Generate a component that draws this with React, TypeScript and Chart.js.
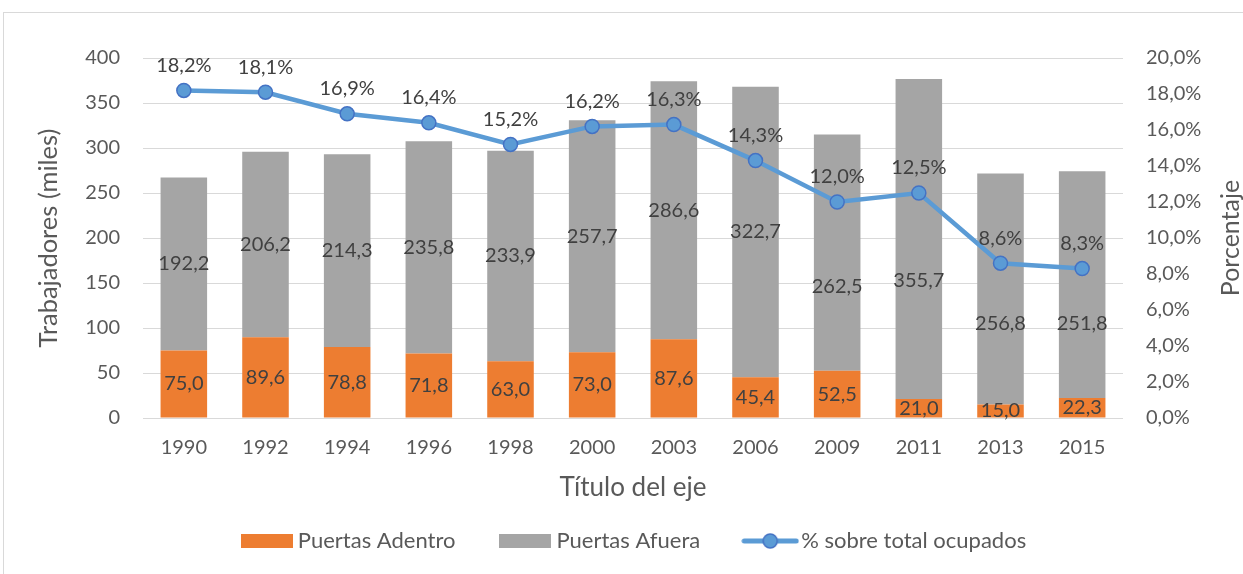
import React, { useEffect, useRef } from "react";
import { Chart, registerables } from "chart.js";

Chart.register(...registerables);

const categories = ["1990", "1992", "1994", "1996", "1998", "2000", "2003", "2006", "2009", "2011", "2013", "2015"];
const puertasAdentro = [75.0, 89.6, 78.8, 71.8, 63.0, 73.0, 87.6, 45.4, 52.5, 21.0, 15.0, 22.3];
const puertasAfuera = [192.2, 206.2, 214.3, 235.8, 233.9, 257.7, 286.6, 322.7, 262.5, 355.7, 256.8, 251.8];
const porcentajeOcupados = [18.2, 18.1, 16.9, 16.4, 15.2, 16.2, 16.3, 14.3, 12.0, 12.5, 8.6, 8.3];
const seriesNames = ["Puertas Adentro", "Puertas Afuera", "% sobre total ocupados"];
const leftAxisTitle = "Trabajadores (miles)";
const rightAxisTitle = "Porcentaje";
const xAxisTitle = "Título del eje";

const FONT = "Lato";
const TEXT = "#595959";
const LABEL = "#404040";
const ORANGE = "#ED7D31";
const GRAY = "#A5A5A5";
const BLUE = "#5B9BD5";
const BLUE_DARK = "#4472C4";

const fmt = (v: number, d: number) => v.toFixed(d).replace(".", ",");

function makeBox(color: string) {
  const c = document.createElement("canvas");
  c.width = 52;
  c.height = 14;
  const g = c.getContext("2d")!;
  g.fillStyle = color;
  g.fillRect(0, 0, 52, 14);
  return c;
}

function makeLineMarker() {
  const c = document.createElement("canvas");
  c.width = 58;
  c.height = 18;
  const g = c.getContext("2d")!;
  g.strokeStyle = BLUE;
  g.lineWidth = 5;
  g.lineCap = "round";
  g.beginPath();
  g.moveTo(3, 9);
  g.lineTo(55, 9);
  g.stroke();
  g.beginPath();
  g.arc(29, 9, 7, 0, Math.PI * 2);
  g.fillStyle = BLUE;
  g.fill();
  g.lineWidth = 1.5;
  g.strokeStyle = BLUE_DARK;
  g.stroke();
  return c;
}

const framePlugin = {
  id: "frame",
  beforeDraw(chart: any) {
    const ctx = chart.ctx;
    ctx.save();
    ctx.fillStyle = "#FFFFFF";
    ctx.fillRect(0, 0, chart.width, chart.height);
    ctx.strokeStyle = "#D9D9D9";
    ctx.lineWidth = 1;
    ctx.strokeRect(3.5, 12.5, chart.width + 20, chart.height + 20);
    ctx.restore();
  },
};

const valueLabelPlugin = {
  id: "valueLabels",
  afterDatasetsDraw(chart: any, _args: any, opts: any) {
    const ctx = chart.ctx;
    ctx.save();
    ctx.font = `20px ${FONT}`;
    ctx.fillStyle = LABEL;
    ctx.textAlign = "center";
    ctx.textBaseline = "middle";
    chart.data.datasets.forEach((ds: any, di: number) => {
      const meta = chart.getDatasetMeta(di);
      meta.data.forEach((el: any, i: number) => {
        const v = ds.data[i] as number;
        if (meta.type === "bar") {
          const p = el.getProps(["x", "y", "base"], true);
          const shift = (opts.barShift && opts.barShift[di] && opts.barShift[di][i]) || 0;
          ctx.fillText(fmt(v, 1), p.x, (p.y + p.base) / 2 + shift);
        } else {
          ctx.fillText(fmt(v, 1) + "%", el.x, el.y - opts.lineOffset);
        }
      });
    });
    ctx.restore();
  },
};

const rightTitlePlugin = {
  id: "rightTitle",
  afterDraw(chart: any, _args: any, opts: any) {
    const ctx = chart.ctx;
    const area = chart.chartArea;
    ctx.save();
    ctx.font = `25px ${FONT}`;
    ctx.fillStyle = TEXT;
    ctx.textAlign = "center";
    ctx.textBaseline = "middle";
    ctx.translate(opts.x, (area.top + area.bottom) / 2);
    ctx.rotate(-Math.PI / 2);
    ctx.fillText(opts.text, 0, 0);
    ctx.restore();
  },
};

export default function App() {
  const ref = useRef<HTMLCanvasElement | null>(null);

  useEffect(() => {
    document.body.style.margin = "0";
    if (!ref.current) return;
    const markers = [makeBox(ORANGE), makeBox(GRAY), makeLineMarker()];

    const chart = new Chart(ref.current, {
      type: "bar",
      data: {
        labels: categories,
        datasets: [
          {
            type: "bar",
            label: seriesNames[0],
            data: puertasAdentro,
            backgroundColor: ORANGE,
            borderWidth: 0,
            yAxisID: "y",
            stack: "s",
            order: 1,
            barPercentage: 0.57,
            categoryPercentage: 1,
          },
          {
            type: "bar",
            label: seriesNames[1],
            data: puertasAfuera,
            backgroundColor: GRAY,
            borderWidth: 0,
            yAxisID: "y",
            stack: "s",
            order: 2,
            barPercentage: 0.57,
            categoryPercentage: 1,
          },
          {
            type: "line",
            label: seriesNames[2],
            data: porcentajeOcupados,
            borderColor: BLUE,
            borderWidth: 4.5,
            pointRadius: 7,
            pointBackgroundColor: BLUE,
            pointBorderColor: BLUE_DARK,
            pointBorderWidth: 1.5,
            yAxisID: "y1",
            order: 0,
            tension: 0,
          } as any,
        ],
      },
      options: {
        responsive: false,
        animation: false,
        devicePixelRatio: 1,
        layout: { padding: { left: 0, top: 58, right: -30, bottom: 12 } },
        font: { family: FONT },
        scales: {
          x: {
            stacked: true,
            offset: true,
            grid: { display: false, drawTicks: false },
            border: { display: false },
            ticks: { color: TEXT, font: { family: FONT, size: 20 }, padding: 18 },
            title: {
              display: true,
              text: xAxisTitle,
              color: TEXT,
              font: { family: FONT, size: 26 },
              padding: { top: 0, bottom: -23 },
            },
            afterFit: (s: any) => {
              s.height = 62;
            },
          },
          y: {
            stacked: true,
            position: "left",
            min: 0,
            max: 400,
            grid: { color: "#D9D9D9", lineWidth: 1, drawTicks: false },
            border: { display: false },
            ticks: { stepSize: 50, color: TEXT, font: { family: FONT, size: 20 }, padding: 23 },
            title: {
              display: true,
              text: leftAxisTitle,
              color: TEXT,
              font: { family: FONT, size: 25.5 },
              padding: { top: 33, bottom: 0 },
            },
            afterFit: (s: any) => {
              s.width = 143;
            },
          },
          y1: {
            position: "right",
            min: 0,
            max: 20,
            grid: { display: false, drawTicks: false },
            border: { display: false },
            ticks: {
              stepSize: 2,
              color: TEXT,
              font: { family: FONT, size: 20 },
              padding: 23,
              callback: (v: any) => fmt(Number(v), 1) + "%",
            },
            afterFit: (s: any) => {
              s.width = 150;
            },
          },
        },
        plugins: {
          legend: {
            position: "bottom",
            labels: {
              usePointStyle: true,
              pointStyleWidth: 40,
              boxHeight: 14,
              padding: 50,
              color: TEXT,
              font: { family: FONT, size: 22 },
              generateLabels: () =>
                seriesNames.map((name, i) => ({
                  text: name,
                  pointStyle: markers[i] as any,
                  fillStyle: "transparent",
                  strokeStyle: "transparent",
                  lineWidth: 0,
                  hidden: false,
                  datasetIndex: i,
                  fontColor: TEXT,
                })),
            },
          },
          tooltip: { enabled: false },
          valueLabels: {
            lineOffset: 25,
            barShift: [
              [0, 0, 0, 0, 0, 0, 0, 0, 0, 0, 0, 0],
              [0, 0, 0, 0, 0, 0, 0, 0, 34, 42, 35, 39],
            ],
          },
          rightTitle: { x: 1231, text: rightAxisTitle },
        } as any,
      },
      plugins: [framePlugin, valueLabelPlugin, rightTitlePlugin],
    });

    return () => chart.destroy();
  }, []);

  return (
    <div style={{ width: 1243, height: 574 }}>
      <canvas ref={ref} width={1243} height={574} style={{ display: "block" }} />
    </div>
  );
}
